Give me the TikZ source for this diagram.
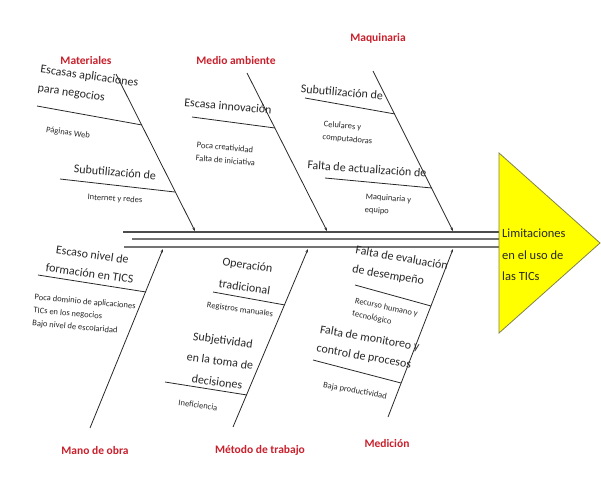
\documentclass[tikz,border=0pt]{standalone}
\usepackage{fontspec}
\setmainfont{Carlito}
\usetikzlibrary{arrows.meta}
\definecolor{rojo}{RGB}{200,32,44}
\definecolor{tinta}{RGB}{40,40,40}
\definecolor{amarillo}{RGB}{255,255,0}
\definecolor{oliva}{RGB}{130,130,70}
\def\tip{{Stealth[length=3.5pt,width=2.5pt]}}
\tikzstyle{cat}=[text=rojo,font=\bfseries\fontsize{11.5}{13}\selectfont,inner sep=1pt]
\tikzstyle{cause}=[text=tinta,font=\fontsize{12}{19}\selectfont,inner sep=0pt]
\tikzstyle{sub}=[text=tinta,font=\fontsize{8.5}{13}\selectfont,inner sep=0pt]
\tikzstyle{bone}=[draw=tinta,line width=0.8pt,-\tip]
\tikzstyle{rib}=[draw=tinta,line width=0.8pt]
\tikzstyle{spine}=[draw=black!55,line width=1.1pt]

\begin{document}
\begin{tikzpicture}[x=1pt,y=-1pt]
	\useasboundingbox (0,0) rectangle (601,480);
	% espina central
	\coordinate (s1a) at (123,232); \coordinate (s1b) at (499,232);
	\coordinate (s2a) at (132,239); \coordinate (s2b) at (499,239);
	\coordinate (s3a) at (124,247); \coordinate (s3b) at (499,247);
	\draw[spine,draw=black!70](s1a)--(s1b);
	\draw[spine](s2a)--(s2b);
	\draw[spine](s3a)--(s3b);
	% efecto
	\coordinate (t1) at (499,153); \coordinate (t2) at (600,243); \coordinate (t3) at (499,333);
	\draw[fill=amarillo,draw=oliva,line width=0.8pt](t1)--(t2)--(t3)--cycle;
	\node[cause,anchor=west,align=left,font=\fontsize{12.5}{21.5}\selectfont](efecto) at (502,255){Limitaciones\\en el uso de\\las TICs};
	% categorias
	\node[cat](mat) at (86,61){Materiales};
	\node[cat](med) at (236,61){Medio ambiente};
	\node[cat](maq) at (378,38){Maquinaria};
	\node[cat](mano) at (95,450){Mano de obra};
	\node[cat](met) at (260,450){Método de trabajo};
	\node[cat](mdc) at (387,443){Medición};
	% huesos
	\coordinate (matA) at (116,74);  \coordinate (matB) at (195,231);
	\coordinate (medA) at (247,73);  \coordinate (medB) at (327,231);
	\coordinate (maqA) at (373,71);  \coordinate (maqB) at (453,231);
	\coordinate (manoA) at (90,428); \coordinate (manoB) at (163,249);
	\coordinate (metA) at (233,427); \coordinate (metB) at (308,249);
	\coordinate (mdcA) at (388,417); \coordinate (mdcB) at (453,249);
	\draw[bone](matA)--(matB);
	\draw[bone](medA)--(medB);
	\draw[bone](maqA)--(maqB);
	\draw[bone](manoA)--(manoB);
	\draw[bone](metA)--(metB);
	\draw[bone](mdcA)--(mdcB);
	% Materiales
	\coordinate (mat1a) at (37,106); \coordinate (mat1b) at (142,125);
	\coordinate (mat2a) at (60,179); \coordinate (mat2b) at (175,192);
	\draw[rib](mat1a)--(mat1b);
	\draw[rib](mat2a)--(mat2b);
	\node[cause,align=left,rotate=-8](mat1) at (88,86){Escasas aplicaciones\\para negocios};
	\node[sub,rotate=-8](mat1s) at (68,133){Páginas Web};
	\node[cause,rotate=-5](mat2) at (115,172){Subutilización de};
	\node[sub,rotate=-3](mat2s) at (115,199){Internet y redes};
	% Medio ambiente
	\coordinate (med1a) at (192,117); \coordinate (med1b) at (275,128);
	\draw[rib](med1a)--(med1b);
	\node[cause,rotate=-5](med1) at (228,106){Escasa innovación};
	\node[sub,align=left,rotate=-5](med1s) at (226,154){Poca creatividad\\Falta de iniciativa};
	% Maquinaria
	\coordinate (maq1a) at (305,98);  \coordinate (maq1b) at (395,114);
	\coordinate (maq2a) at (325,178); \coordinate (maq2b) at (432,188);
	\draw[rib](maq1a)--(maq1b);
	\draw[rib](maq2a)--(maq2b);
	\node[cause,rotate=-5](maq1) at (342,92){Subutilización de};
	\node[sub,align=left,rotate=-5](maq1s) at (348,133){Celulares y\\computadoras};
	\node[cause,rotate=-4](maq2) at (367,169){Falta de actualización de};
	\node[sub,align=left,rotate=-4](maq2s) at (388,205){Maquinaria y\\equipo};
	% Mano de obra
	\coordinate (mano1a) at (38,275); \coordinate (mano1b) at (146,292);
	\draw[rib](mano1a)--(mano1b);
	\node[cause,align=center,rotate=-8](mano1) at (91,264){Escaso nivel de\\formación en TICS};
	\node[sub,align=left,rotate=-5](mano1s) at (84,315){Poca dominio de aplicaciones\\TICs en los negocios\\Bajo nivel de escolaridad};
	% Metodo de trabajo
	\coordinate (met1a) at (213,292); \coordinate (met1b) at (285,305);
	\coordinate (met2a) at (165,382); \coordinate (met2b) at (247,395);
	\draw[rib](met1a)--(met1b);
	\draw[rib](met2a)--(met2b);
	\node[cause,align=center,rotate=-8,font=\fontsize{12}{22}\selectfont](met1) at (246,276){Operación\\tradicional};
	\node[sub,rotate=-8](met1s) at (240,310){Registros manuales};
	\node[cause,align=center,rotate=-8,font=\fontsize{12}{21}\selectfont](met2) at (220,361){Subjetividad\\en la toma de\\decisiones};
	\node[sub,rotate=-8](met2s) at (198,405){Ineficiencia};
	% Medicion
	\coordinate (mdc1a) at (355,285); \coordinate (mdc1b) at (431,306);
	\coordinate (mdc2a) at (313,360); \coordinate (mdc2b) at (401,383);
	\draw[rib](mdc1a)--(mdc1b);
	\draw[rib](mdc2a)--(mdc2b);
	\node[cause,align=left,rotate=-10](mdc1) at (400,268){Falta de evaluación\\de desempeño};
	\node[sub,align=left,rotate=-12](mdc1s) at (385,314){Recurso humano y\\tecnológico};
	\node[cause,align=left,rotate=-10](mdc2) at (368,348){Falta de monitoreo y\\control de procesos};
	\node[sub,rotate=-10](mdc2s) at (355,391){Baja productividad};
\end{tikzpicture}
\end{document}
